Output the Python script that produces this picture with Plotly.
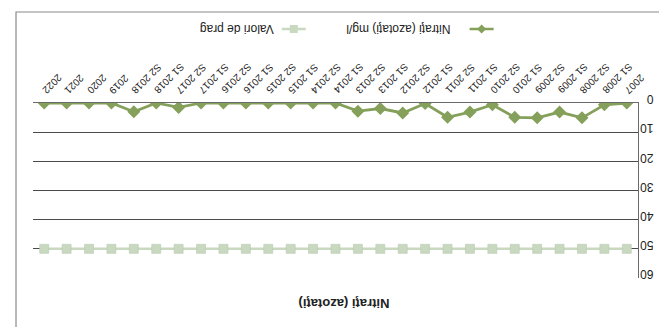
import plotly.graph_objects as go

categories = ["2007", "S1 2008", "S2 2008", "S1 2009", "S2 2009", "S1 2010", "S2 2010",
              "S1 2011", "S2 2011", "S1 2012", "S2 2012", "S1 2013", "S2 2013",
              "S1 2014", "S2 2014", "S1 2015", "S2 2015", "S1 2016", "S2 2016",
              "S1 2017", "S2 2017", "S1 2018", "S2 2018", "2019", "2020", "2021", "2022"]
nitrati = [0, 0.6, 5.1, 3.1, 5.1, 4.9, 0.6, 3.1, 4.9, 0.2, 3.4, 1.9, 2.8,
           0, 0, 0, 0, 0, 0, 0, 1.5, 0, 3.0, 0, 0, 0, 0]
prag = [50] * 27
y_ticks = [0, 10, 20, 30, 40, 50, 60]

title_text = "Nitraţi (azotaţi)"
name_nitrati = "Nitraţi (azotaţi) mg/l"
name_prag = "Valori de prag"

W, H = 667, 327
L, R, T, B = 25, 630.5, 95, 270

def px(x):
    return (x - L) / (R - L)

def py(y):
    return (B - y) / (B - T)

c_nit = "#84a05a"
c_prag = "#c9d9c0"
font = "Liberation Sans"

fig = go.Figure()
fig.add_trace(go.Scatter(x=categories, y=prag, mode="lines+markers", name=name_prag,
                         line=dict(color=c_prag, width=2.5),
                         marker=dict(symbol="square", size=9, color=c_prag,
                                     line=dict(color="#b9cab0", width=0.6))))
fig.add_trace(go.Scatter(x=categories, y=nitrati, mode="lines+markers", name=name_nitrati,
                         line=dict(color=c_nit, width=2.8),
                         marker=dict(symbol="diamond", size=10, color=c_nit)))

shapes = []
# outer frame
shapes.append(dict(type="rect", xref="paper", yref="paper",
                   x0=px(8), x1=px(665), y0=py(322), y1=py(4),
                   line=dict(color="#8a8a8a", width=1.2)))
shapes.append(dict(type="line", xref="paper", yref="paper",
                   x0=px(0), x1=px(667), y0=py(326), y1=py(326),
                   line=dict(color="#999999", width=1)))
# legend symbols
shapes.append(dict(type="line", xref="paper", yref="paper",
                   x0=px(462), x1=px(486), y0=py(21), y1=py(21),
                   line=dict(color=c_nit, width=2.5)))
cx, cy, d = 474, 21, 4.5
shapes.append(dict(type="path", xref="paper", yref="paper",
                   path=f"M {px(cx-d)},{py(cy)} L {px(cx)},{py(cy-d)} L {px(cx+d)},{py(cy)} L {px(cx)},{py(cy+d)} Z",
                   fillcolor=c_nit, line=dict(color=c_nit, width=0)))
shapes.append(dict(type="line", xref="paper", yref="paper",
                   x0=px(274), x1=px(298), y0=py(21), y1=py(21),
                   line=dict(color=c_prag, width=2.5)))
shapes.append(dict(type="rect", xref="paper", yref="paper",
                   x0=px(282), x1=px(290), y0=py(25), y1=py(17),
                   fillcolor=c_prag, line=dict(color=c_prag, width=0)))

annotations = [
    dict(text=f"<b>{title_text}</b>", xref="paper", yref="paper", x=px(336.5), y=py(296),
         showarrow=False, textangle=180, font=dict(family=font, size=13, color="#222222"),
         xanchor="center", yanchor="middle"),
    dict(text=name_nitrati, xref="paper", yref="paper", x=px(391), y=py(21),
         showarrow=False, textangle=180, font=dict(family=font, size=12, color="#222222"),
         xanchor="center", yanchor="middle"),
    dict(text=name_prag, xref="paper", yref="paper", x=px(229), y=py(21),
         showarrow=False, textangle=180, font=dict(family=font, size=12, color="#222222"),
         xanchor="center", yanchor="middle"),
]

# rotated (upside-down) category labels above the axis
char_w = {"S": 6.67, " ": 2.78}
for i, c in enumerate(categories):
    tl = sum(char_w.get(ch, 5.56) for ch in c)
    off = (tl / 2 + 1) * 0.7071
    annotations.append(dict(text=c, xref="x", yref="paper", x=i, y=py(85),
                            xshift=off - 1, yshift=off, showarrow=False, textangle=135,
                            font=dict(family=font, size=10, color="#222222"),
                            xanchor="center", yanchor="middle"))

fig.update_layout(
    width=W, height=H,
    margin=dict(l=L, r=W - R, t=T, b=H - B, pad=0),
    paper_bgcolor="white", plot_bgcolor="white",
    showlegend=False,
    shapes=shapes, annotations=annotations,
    font=dict(family=font, color="#222222"),
    xaxis=dict(type="category", categoryorder="array", categoryarray=categories,
               range=[len(categories) - 0.5, -0.5], side="top",
               showticklabels=False,
               showgrid=False, showline=True, linecolor="#6a6a6a", linewidth=1,
               ticks="", zeroline=False),
    yaxis=dict(range=[60, 0], tickvals=y_ticks, side="right",
               tickangle=180, tickfont=dict(size=12, color="#222222"),
               showgrid=True, gridcolor="#4a4a4a", gridwidth=1,
               showline=True, linecolor="#6a6a6a", linewidth=1,
               ticks="", zeroline=False, ticklabelstandoff=12),
)

fig.write_html("out.html")
